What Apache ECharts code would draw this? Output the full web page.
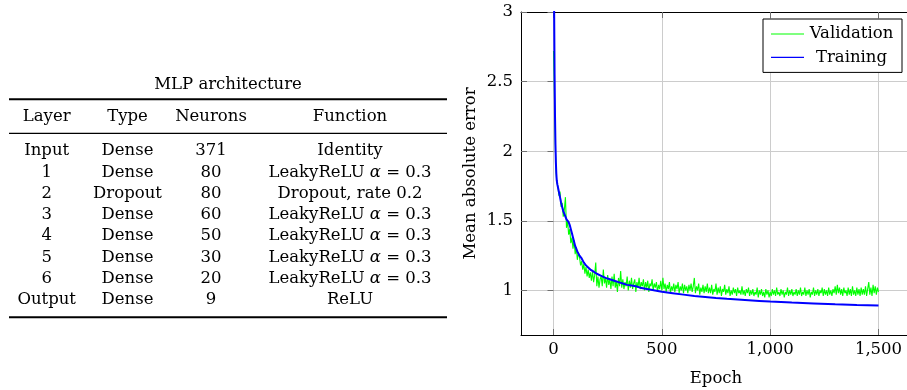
<!DOCTYPE html>
<html>
<head>
<meta charset="utf-8">
<script src="https://cdn.jsdelivr.net/npm/echarts@6/dist/echarts.min.js"></script>
<style>
  html, body { margin: 0; padding: 0; background: #fff; }
  #chart { width: 907px; height: 390px; }
</style>
</head>
<body>
<div id="chart"></div>
<script>
// table contents
const tableTitle = 'MLP architecture'
const tableHeader = ['Layer', 'Type', 'Neurons', 'Function']
const layerNames = ['Input', '1', '2', '3', '4', '5', '6', 'Output']
const layerTypes = ['Dense', 'Dense', 'Dropout', 'Dense', 'Dense', 'Dense', 'Dense', 'Dense']
const layerNeurons = ['371', '80', '80', '60', '50', '30', '20', '9']
const layerFunctions = ['Identity', 'LeakyReLU α = 0.3', 'Dropout, rate 0.2', 'LeakyReLU α = 0.3',
  'LeakyReLU α = 0.3', 'LeakyReLU α = 0.3', 'LeakyReLU α = 0.3', 'ReLU']

// training curve (epoch, mean absolute error)
const trainEpochs = [0, 3, 5, 7, 9, 11, 13, 15, 18, 22, 26, 30, 35, 40, 45, 50, 55, 60, 65, 70, 75, 80, 85, 90, 95, 100,
  110, 120, 130, 140, 150, 160, 170, 180, 190, 200, 220, 240, 260, 280, 300, 320, 340, 360, 380, 400,
  450, 500, 550, 600, 650, 700, 750, 800, 850, 900, 950, 1000, 1100, 1200, 1300, 1400, 1500]
const trainMAE = [3.9, 3.0, 2.55, 2.25, 2.05, 1.92, 1.84, 1.79, 1.76, 1.73, 1.70, 1.67, 1.63, 1.60, 1.57, 1.55, 1.53, 1.51, 1.50, 1.49, 1.47, 1.44, 1.41, 1.38, 1.35, 1.32,
  1.28, 1.25, 1.23, 1.20, 1.18, 1.165, 1.15, 1.14, 1.13, 1.12, 1.105, 1.09, 1.08, 1.07, 1.06, 1.05, 1.04, 1.035, 1.03, 1.02,
  1.005, 0.99, 0.98, 0.97, 0.96, 0.953, 0.946, 0.94, 0.935, 0.93, 0.925, 0.92, 0.913, 0.907, 0.90, 0.895, 0.891]

// validation curve: first epochs, then one reading every 5 epochs from epoch 20
const valEarlyEpochs = [0, 3, 6, 9, 12, 15]
const valEarlyMAE = [2.72, 2.54, 2.25, 2.0, 1.85, 1.78]
const valStart = 20
const valStep = 5
const valMAE = [
  1.75, 1.68, 1.71, 1.60, 1.63, 1.53, 1.58, 1.67, 1.45, 1.50, 1.40, 1.44, 1.34, 1.38, 1.30, 1.36, 1.26, 1.31, 1.22, 1.27,
  1.24, 1.18, 1.21, 1.15, 1.19, 1.12, 1.17, 1.10, 1.15, 1.09, 1.13, 1.07, 1.14, 1.06, 1.11, 1.20, 1.03, 1.10, 1.02, 1.08,
  1.10, 1.03, 1.15, 1.05, 1.09, 1.02, 1.11, 1.04, 1.08, 1.01, 1.10, 1.03, 1.12, 1.02, 1.07, 0.99, 1.09, 1.03, 1.14, 1.02,
  1.08, 1.01, 1.06, 1.03, 1.10, 1.00, 1.07, 1.02, 1.09, 1.01, 1.05, 1.08, 0.99, 1.06, 1.02, 1.09, 1.01, 1.06, 1.03, 1.08,
  1.00, 1.06, 1.02, 1.07, 0.99, 1.05, 1.03, 1.08, 1.00, 1.05, 1.02, 1.06, 0.99, 1.04, 1.01, 1.07, 1.00, 1.09, 1.01, 1.05,
  0.99, 1.04, 1.01, 1.06, 0.98, 1.03, 1.00, 1.05, 0.99, 1.04, 1.01, 1.06, 0.98, 1.03, 1.00, 1.05, 0.98, 1.04, 1.00, 1.03,
  0.98, 1.04, 1.00, 1.05, 0.99, 1.03, 1.09, 0.98, 1.03, 1.00, 1.05, 0.97, 1.02, 0.99, 1.04, 0.98, 1.03, 0.99, 1.05, 0.98,
  1.02, 0.98, 1.04, 0.97, 1.01, 0.99, 1.05, 0.97, 1.02, 0.98, 1.03, 0.96, 1.01, 0.99, 1.04, 0.97, 1.01, 0.98, 1.03, 0.96,
  1.00, 0.97, 1.02, 0.98, 1.01, 0.96, 1.02, 0.98, 1.00, 0.97, 1.03, 0.97, 1.00, 0.96, 1.01, 0.98, 1.02, 0.96, 1.00, 0.97,
  1.01, 0.96, 0.99, 0.97, 1.02, 0.95, 1.00, 0.97, 1.01, 0.96, 0.99, 0.95, 1.01, 0.97, 1.00, 0.95, 0.99, 0.96, 1.01, 0.97,
  1.00, 0.96, 1.02, 0.97, 0.99, 0.96, 1.01, 0.97, 1.00, 0.95, 0.99, 0.97, 1.02, 0.96, 1.00, 0.97, 1.01, 0.96, 0.99, 0.97,
  1.01, 0.96, 1.00, 0.97, 1.02, 0.96, 0.99, 0.97, 1.02, 0.96, 1.00, 0.97, 1.01, 0.95, 0.99, 0.97, 1.02, 0.96, 1.00, 0.97,
  1.01, 0.96, 1.00, 0.98, 1.02, 0.96, 1.01, 0.97, 1.00, 0.96, 1.02, 0.97, 1.00, 0.96, 1.01, 0.98, 1.03, 0.97, 1.04, 0.98,
  1.02, 0.97, 1.01, 0.96, 1.02, 0.98, 1.00, 0.96, 1.02, 0.97, 1.01, 0.96, 1.03, 0.97, 1.00, 0.96, 1.02, 0.97, 1.01, 0.96,
  1.02, 0.97, 1.01, 0.97, 1.03, 0.96, 1.01, 1.06, 0.97, 1.02, 0.96, 1.04, 0.98, 1.03, 0.97, 1.02, 0.99
]

const yTicks = [1, 1.5, 2, 2.5, 3]
const xTicks = [0, 500, 1000, 1500]

const FONT = "'DejaVu Serif', 'Liberation Serif', serif"
const FS = 16.5

const trainData = trainEpochs.map((e, i) => [e, trainMAE[i]])
const valData = valEarlyEpochs.map((e, i) => [e, valEarlyMAE[i]])
valMAE.forEach((v, i) => valData.push([valStart + i * valStep, v]))

// table drawn with graphic elements
function cell(text, x, y) {
  const rich = text.indexOf('α') >= 0
  return {
    type: 'text',
    x: x,
    y: y,
    style: {
      text: rich ? text.replace('α', '{a|α}') : text,
      font: FS + 'px ' + FONT,
      fill: '#000',
      align: 'center',
      verticalAlign: 'middle',
      rich: rich ? { a: { fontStyle: 'italic', fontSize: FS, fontFamily: FONT } } : undefined
    }
  }
}
function rule(y, w) {
  return {
    type: 'line',
    shape: { x1: 9, y1: y, x2: 447, y2: y },
    style: { stroke: '#000', lineWidth: w }
  }
}

const colX = [46.7, 127.5, 211, 350]
const tableGraphic = [cell(tableTitle, 228, 85), rule(99.3, 2), rule(133.3, 1.2), rule(317.3, 2)]
tableHeader.forEach((h, j) => tableGraphic.push(cell(h, colX[j], 116.7)))
layerNames.forEach((n, i) => {
  const y = 151 + i * 21.3
  tableGraphic.push(cell(n, colX[0], y))
  tableGraphic.push(cell(layerTypes[i], colX[1], y))
  tableGraphic.push(cell(layerNeurons[i], colX[2], y))
  tableGraphic.push(cell(layerFunctions[i], colX[3], y))
})

const tickStyle = { color: '#707070', width: 1 }
const gridLine = { show: true, lineStyle: { color: '#cccccc', width: 1 } }
const boxLine = { show: true, onZero: false, lineStyle: { color: '#000', width: 1 } }

const chart = echarts.init(document.getElementById('chart'), null, { renderer: 'canvas' })
chart.setOption({
  animation: false,
  textStyle: { fontFamily: FONT },
  graphic: tableGraphic,
  grid: {
    left: 521,
    top: 12,
    width: 390,
    height: 323,
    show: false,
    containLabel: false,
    outerBoundsMode: 'none'
  },
  legend: {
    orient: 'vertical',
    left: 763,
    top: 19,
    padding: [5, 8, 5, 8],
    itemGap: 3.4,
    itemWidth: 33,
    itemHeight: 1.2,
    icon: 'rect',
    borderColor: '#000',
    borderWidth: 1,
    borderRadius: 0,
    backgroundColor: '#fff',
    formatter: name => '{c|' + name + '}',
    textStyle: {
      fontSize: FS,
      fontFamily: FONT,
      color: '#000',
      lineHeight: 20,
      rich: { c: { width: 85, align: 'center', fontSize: FS, fontFamily: FONT, color: '#000', lineHeight: 20 } }
    },
    data: ['Validation', 'Training']
  },
  xAxis: [
    {
      type: 'value',
      min: -150,
      max: 1650,
      name: 'Epoch',
      nameLocation: 'middle',
      nameGap: 35,
      nameTextStyle: { fontSize: FS, color: '#000', fontFamily: FONT },
      axisLine: boxLine,
      axisTick: { show: true, inside: true, length: 6, customValues: xTicks, lineStyle: tickStyle },
      axisLabel: {
        customValues: xTicks,
        fontSize: FS,
        color: '#000',
        margin: 6,
        formatter: v => v.toLocaleString('en-US')
      },
      splitLine: gridLine
    },
    {
      type: 'value',
      position: 'top',
      min: -150,
      max: 1650,
      axisLine: boxLine,
      axisTick: { show: true, inside: true, length: 6, customValues: xTicks, lineStyle: tickStyle },
      axisLabel: { show: false },
      splitLine: { show: false }
    }
  ],
  yAxis: [
    {
      type: 'value',
      min: 0.68,
      max: 3,
      name: 'Mean absolute error',
      nameLocation: 'middle',
      nameGap: 42,
      nameTextStyle: { fontSize: FS, color: '#000', fontFamily: FONT },
      axisLine: boxLine,
      axisTick: { show: true, inside: true, length: 6, customValues: yTicks, lineStyle: tickStyle },
      axisLabel: { customValues: yTicks, fontSize: FS, color: '#000', margin: 8 },
      splitLine: gridLine
    },
    {
      type: 'value',
      position: 'right',
      min: 0.68,
      max: 3,
      axisLine: { show: false },
      axisTick: { show: true, inside: true, length: 6, customValues: yTicks, lineStyle: tickStyle },
      axisLabel: { show: false },
      splitLine: { show: false }
    }
  ],
  series: [
    {
      name: 'Validation',
      type: 'line',
      data: valData,
      symbol: 'none',
      clip: true,
      lineStyle: { color: '#00ff00', width: 1.1 },
      itemStyle: { color: '#00ff00' }
    },
    {
      name: 'Training',
      type: 'line',
      data: trainData,
      symbol: 'none',
      clip: true,
      lineStyle: { color: '#0000ff', width: 2 },
      itemStyle: { color: '#0000ff' }
    }
  ]
})
</script>
</body>
</html>
